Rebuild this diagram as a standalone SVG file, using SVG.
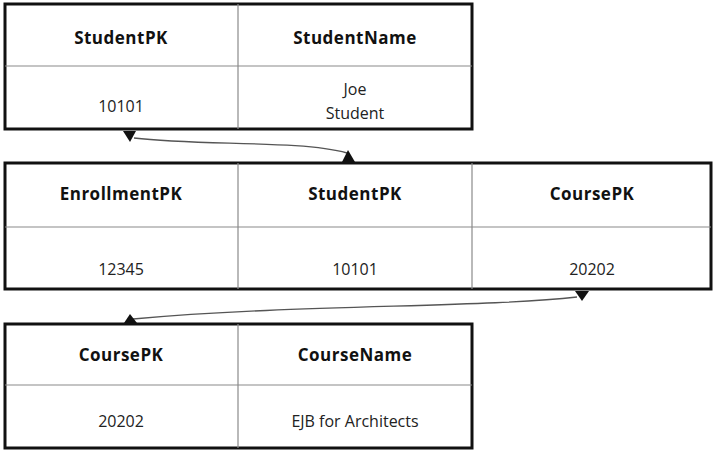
<svg xmlns="http://www.w3.org/2000/svg" width="714" height="451" viewBox="0 0 714 451">
<style>
.outer{fill:#fff;stroke:#111;stroke-width:3}
.inner{stroke:#8a8a8a;stroke-width:1.2;fill:none}
.h{font-family:"Open Sans",sans-serif;font-weight:bold;font-size:17px;letter-spacing:0.5px;fill:#111;text-anchor:middle}
.d{font-family:"Open Sans",sans-serif;font-size:16px;fill:#222;text-anchor:middle}
.conn{fill:none;stroke:#555;stroke-width:1.3}
.head{fill:#111}
</style>
<rect width="714" height="451" fill="#fff"/>
<g id="student">
<rect class="outer" x="5" y="4" width="467" height="125"/>
<line class="inner" x1="5" y1="66" x2="472" y2="66"/>
<line class="inner" x1="238" y1="4" x2="238" y2="129"/>
<text class="h" x="121" y="44">StudentPK</text>
<text class="h" x="355" y="44">StudentName</text>
<text class="d" x="121" y="112">10101</text>
<text class="d" x="355" y="95">Joe</text>
<text class="d" x="355" y="119">Student</text>
</g>
<g id="enrollment">
<rect class="outer" x="5" y="163" width="706" height="126"/>
<line class="inner" x1="5" y1="227" x2="711" y2="227"/>
<line class="inner" x1="238" y1="163" x2="238" y2="289"/>
<line class="inner" x1="472" y1="163" x2="472" y2="289"/>
<text class="h" x="121" y="200">EnrollmentPK</text>
<text class="h" x="355" y="200">StudentPK</text>
<text class="h" x="592" y="200">CoursePK</text>
<text class="d" x="121" y="275">12345</text>
<text class="d" x="355" y="275">10101</text>
<text class="d" x="592" y="275">20202</text>
</g>
<g id="course">
<rect class="outer" x="5" y="324" width="467" height="124"/>
<line class="inner" x1="5" y1="385" x2="472" y2="385"/>
<line class="inner" x1="238" y1="324" x2="238" y2="448"/>
<text class="h" x="121" y="361">CoursePK</text>
<text class="h" x="355" y="361">CourseName</text>
<text class="d" x="121" y="427">20202</text>
<text class="d" x="355" y="427">EJB for Architects</text>
</g>
<g id="connectors">
<path class="conn" d="M134,138 C200,146 300,140 347,153"/>
<polygon class="head" points="123,131 136,131 130,142"/>
<polygon class="head" points="348,150 342,162 355,162"/>
<path class="conn" d="M577,297 C480,308 300,304 133,319"/>
<polygon class="head" points="575,291 589,291 582,301"/>
<polygon class="head" points="130,314 124,323 137,323"/>
</g>
</svg>
